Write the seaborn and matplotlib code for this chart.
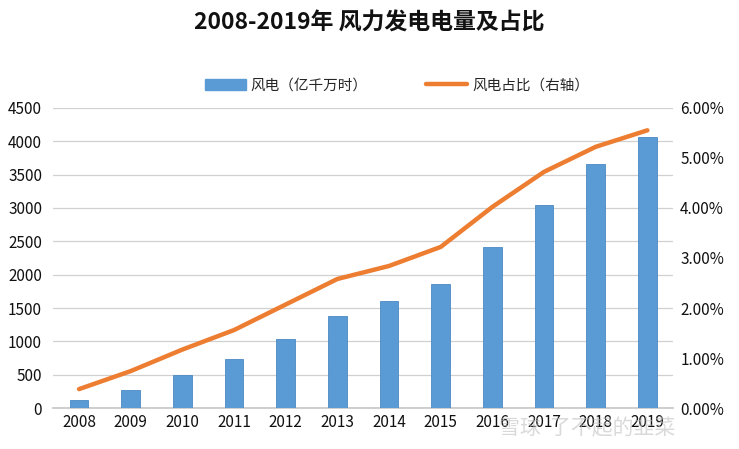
import numpy as np
import pandas as pd
import seaborn as sns
import matplotlib.pyplot as plt
from matplotlib.ticker import FuncFormatter
from matplotlib.patches import Patch
from matplotlib.lines import Line2D

# data
years = ['2008', '2009', '2010', '2011', '2012', '2013', '2014', '2015',
         '2016', '2017', '2018', '2019']
wind_power = [128, 276, 494, 741, 1030, 1383, 1598, 1856, 2409, 3046, 3660, 4057]
wind_share = [0.38, 0.74, 1.17, 1.56, 2.07, 2.58, 2.84, 3.22, 4.02, 4.72, 5.22, 5.55]

df = pd.DataFrame({'year': years, 'power': wind_power, 'share': wind_share})

sns.set_theme(style='white')
plt.rcParams['font.family'] = ['Noto Sans CJK SC', 'DejaVu Sans']

fig, ax = plt.subplots(figsize=(7.39, 4.49), dpi=100)
fig.subplots_adjust(left=0.072, right=0.911, top=0.76, bottom=0.091)

bar_c = '#5b9bd5'
line_c = '#ed7d31'

sns.barplot(data=df, x='year', y='power', color=bar_c, width=0.36,
            edgecolor='#4a8ac4', linewidth=0.6, saturation=1, ax=ax, zorder=3)
ax.set_ylim(0, 4500)
ax.set_yticks(np.arange(0, 4501, 500))
ax.set_xlim(-0.5, 11.5)
ax.grid(axis='y', color='#d0d0d0', linewidth=0.9, zorder=0)
ax.set_axisbelow(True)
ax.set_xlabel('')
ax.set_ylabel('')
for s in ['left', 'right', 'top']:
    ax.spines[s].set_visible(False)
ax.spines['bottom'].set_color('#c8c8c8')
ax.tick_params(axis='both', length=0, labelsize=11, colors='#111111')
ax.tick_params(axis='y', pad=8)
ax.tick_params(axis='x', pad=4)

ax2 = ax.twinx()
sns.lineplot(x=np.arange(len(years)), y=wind_share, color=line_c, linewidth=3.2,
             ax=ax2, zorder=4)
ax2.set_ylim(0, 6)
ax2.set_yticks(np.arange(0, 6.01, 1))
ax2.yaxis.set_major_formatter(FuncFormatter(lambda v, p: f'{v:.2f}%'))
for s in ['left', 'right', 'top', 'bottom']:
    ax2.spines[s].set_visible(False)
ax2.tick_params(axis='y', length=0, labelsize=11, colors='#111111', pad=5)
ax2.grid(False)
ax2.set_ylabel('')

fig.text(0.5, 0.948, '2008-2019年 风力发电电量及占比', ha='center', va='center',
         fontsize=16.5, fontweight='bold', color='#111111')

handles = [Patch(facecolor=bar_c, edgecolor=bar_c),
           Line2D([0], [0], color=line_c, linewidth=3.2)]
fig.legend(handles, ['风电（亿千万时）', '风电占比（右轴）'], loc='center',
           bbox_to_anchor=(0.537, 0.81), ncol=2, frameon=False, fontsize=10.5,
           handlelength=2.8, handletextpad=0.35, columnspacing=4.0,
           handleheight=0.8)

fig.text(0.675, 0.045, '雪球  了不起的韭菜', fontsize=15, color='#bbbbbb',
         alpha=0.55, ha='left', va='center')

fig.savefig('out.png', dpi=100)
